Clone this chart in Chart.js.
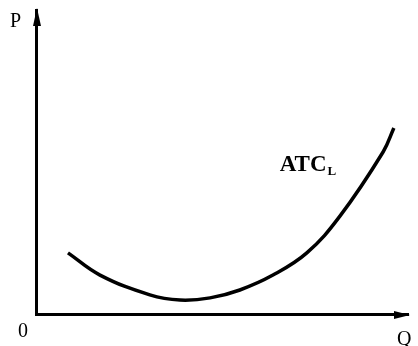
<!DOCTYPE html>
<html lang="en">
  <head>
    <meta charset="UTF-8" />
    <title>ATC long run</title>
    <script src="https://cdn.jsdelivr.net/npm/chart.js"></script>
    <style>
      html, body { margin: 0; padding: 0; background: #fff; }
      #wrap { width: 418px; height: 346px; }
    </style>
  </head>
  <body>
    <div id="wrap"><canvas id="chartCanvas"></canvas></div>
    <script>
      // curve (Q, P), axes run 0..100
      let qValues = [8.6, 17.2, 30.6, 38.7, 46.8, 54.8, 63.7, 72.8, 81.7, 93.3, 96.2];
      let pValues = [20.1, 12.8, 6.3, 4.6, 5.3, 7.9, 12.8, 20.1, 32.2, 53.3, 61.2];
      let curveName = "ATC";
      let curveSub = "L";
      let yAxisName = "P";
      let xAxisName = "Q";
      let originName = "0";

      let points = qValues.map((q, i) => ({ x: q, y: pValues[i] }));

      let axisDecor = {
        id: "axisDecor",
        afterDraw(chart) {
          let ctx = chart.ctx;
          let xs = chart.scales.x;
          let ys = chart.scales.y;
          let x0 = xs.getPixelForValue(0);
          let y0 = ys.getPixelForValue(0);
          let yTop = ys.getPixelForValue(100);
          let xEnd = xs.getPixelForValue(100);
          ctx.save();
          ctx.fillStyle = "#000";
          // arrow on P axis
          ctx.beginPath();
          ctx.moveTo(x0 + 1, yTop - 2);
          ctx.lineTo(x0 + 5, yTop + 16);
          ctx.lineTo(x0 - 3, yTop + 16);
          ctx.closePath();
          ctx.fill();
          // arrow on Q axis
          ctx.beginPath();
          ctx.moveTo(xEnd + 2, y0 + 1);
          ctx.lineTo(xEnd - 14, y0 - 3);
          ctx.lineTo(xEnd - 14, y0 + 5);
          ctx.closePath();
          ctx.fill();

          ctx.textBaseline = "alphabetic";
          ctx.font = "20px 'Liberation Serif'";
          ctx.fillText(yAxisName, x0 - 26, yTop + 17);
          ctx.fillText(originName, x0 - 18, y0 + 23);
          ctx.fillText(xAxisName, xEnd - 11, y0 + 31);

          ctx.font = "bold 23px 'Liberation Serif'";
          let lx = xs.getPixelForValue(65.5);
          let ly = ys.getPixelForValue(47);
          ctx.fillText(curveName, lx, ly);
          let w = ctx.measureText(curveName).width;
          ctx.font = "bold 13px 'Liberation Serif'";
          ctx.fillText(curveSub, lx + w + 1, ly + 4);
          ctx.restore();
        },
      };

      let ctx = document.getElementById("chartCanvas").getContext("2d");
      new Chart(ctx, {
        type: "scatter",
        data: {
          datasets: [
            {
              data: points,
              showLine: true,
              borderColor: "#000",
              borderWidth: 3.5,
              pointRadius: 0,
              tension: 0.4,
              fill: false,
            },
          ],
        },
        options: {
          responsive: true,
          maintainAspectRatio: false,
          animation: false,
          layout: { padding: { left: 36, top: 10, right: 10, bottom: 32 } },
          plugins: { legend: { display: false }, tooltip: { enabled: false } },
          scales: {
            x: {
              type: "linear",
              min: 0,
              max: 100,
              grid: { display: false },
              ticks: { display: false },
              border: { display: true, color: "#000", width: 3 },
              afterFit(s) { s.height = 0; },
            },
            y: {
              type: "linear",
              min: 0,
              max: 100,
              grid: { display: false },
              ticks: { display: false },
              border: { display: true, color: "#000", width: 3 },
              afterFit(s) { s.width = 0; },
            },
          },
        },
        plugins: [axisDecor],
      });
    </script>
  </body>
</html>
